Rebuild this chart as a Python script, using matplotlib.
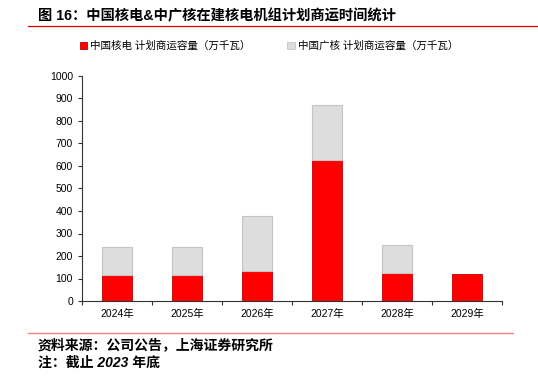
import matplotlib.pyplot as plt
import numpy as np
from matplotlib.patches import Rectangle
from matplotlib.lines import Line2D

plt.rcParams['font.family'] = ['Liberation Sans', 'Noto Sans CJK SC', 'DejaVu Sans']

years = ['2024年', '2025年', '2026年', '2027年', '2028年', '2029年']
cnnp = [116, 116, 133, 627, 124, 121]        # 中国核电
cgn = [122, 124, 246, 244, 123, 0]           # 中国广核 (stacked on top)
labels = ['中国核电 计划商运容量（万千瓦）', '中国广核 计划商运容量（万千瓦）']
title = '图 16：中国核电&中广核在建核电机组计划商运时间统计'
source = '资料来源：公司公告，上海证券研究所'
note = '注：截止 2023 年底'

fig = plt.figure(figsize=(5.38, 3.76), dpi=100)
W, H = 538, 376
ax = fig.add_axes([82 / W, 1 - 301 / H, 420 / W, 225 / H])

x = np.arange(len(years))
ax.bar(x, cnnp, width=0.43, color='#ff0000', edgecolor='#c00000', linewidth=0.6, label=labels[0])
has_cgn = np.array(cgn) > 0
ax.bar(x[has_cgn], np.array(cgn)[has_cgn], bottom=np.array(cnnp)[has_cgn], width=0.43,
       color='#dddddd', edgecolor='#c4c4c4', linewidth=0.8, label=labels[1])

ax.set_xlim(-0.5, len(years) - 0.5)
ax.set_ylim(0, 1000)
ax.set_yticks(np.arange(0, 1001, 100))
ax.set_xticks(np.arange(-0.5, len(years)), minor=False)
ax.set_xticklabels([])
ax.set_xticks(x, minor=True)
ax.set_xticklabels(years, minor=True)
ax.tick_params(axis='x', which='minor', length=0, labelsize=7.5, pad=6)
ax.tick_params(axis='x', which='major', length=3, direction='out', color='#333333')
ax.tick_params(axis='y', length=3, direction='out', labelsize=7.5, color='#333333')
for s in ['top', 'right']:
    ax.spines[s].set_visible(False)
for s in ['left', 'bottom']:
    ax.spines[s].set_color('#333333')
    ax.spines[s].set_linewidth(0.8)

# title and header line
fig.text(38 / W, 1 - 16 / H, title, fontsize=10.3, fontweight='bold', va='center', ha='left')
fig.add_artist(Line2D([28 / W, 1], [1 - 26 / H] * 2, color='#e00000', linewidth=0.9))

# legend
handles = [Rectangle((0, 0), 1, 1, facecolor='#ff0000', edgecolor='#c00000', linewidth=0.6),
           Rectangle((0, 0), 1, 1, facecolor='#dddddd', edgecolor='#c4c4c4', linewidth=0.6)]
fig.legend(handles, labels, loc='center', bbox_to_anchor=(0.5, 1 - 46 / H), ncol=2, frameon=False,
           fontsize=7.6, handlelength=0.7, handleheight=0.7, handletextpad=0.3, columnspacing=3.5)

# footer
fig.add_artist(Line2D([28 / W, 513 / W], [1 - 333 / H] * 2, color='#ff8080', linewidth=1))
fig.text(38 / W, 1 - 345 / H, source, fontsize=10, fontweight='bold', style='italic', va='center', ha='left')
fig.text(38 / W, 1 - 363 / H, note, fontsize=10, fontweight='bold', style='italic', va='center', ha='left')

fig.savefig('out.png', dpi=100)
